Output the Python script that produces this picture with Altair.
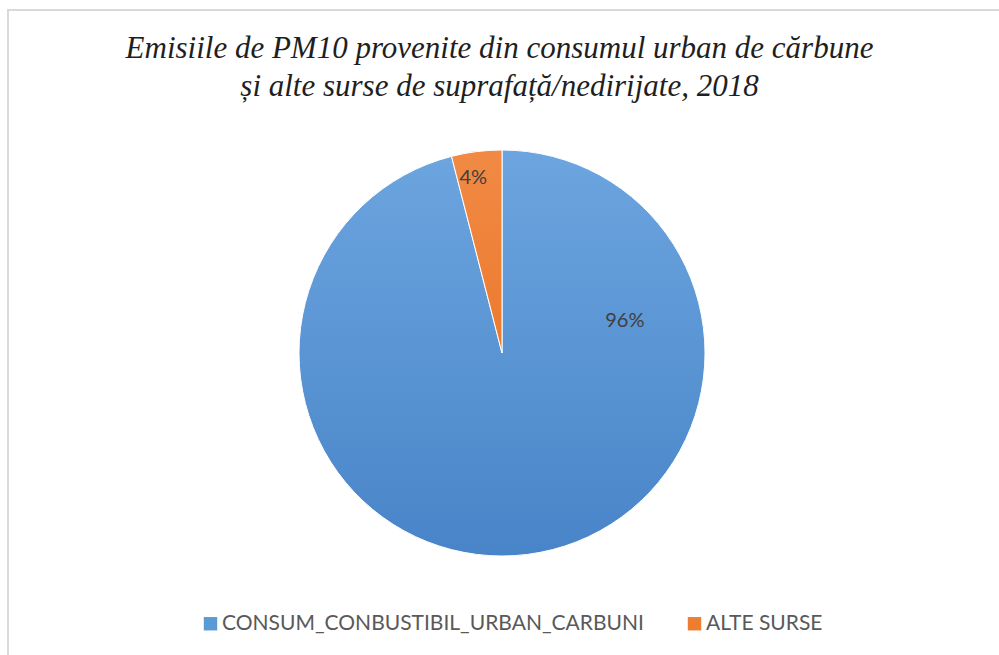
import math
import altair as alt
import pandas as pd

# Share of PM10 emissions by source (percent)
categories = ["CONSUM_CONBUSTIBIL_URBAN_CARBUNI", "ALTE SURSE"]
shares = [96, 4]
labels = ["96%", "4%"]
slice_order = [0, 1]
flat_colors = ["#5b9bd5", "#ed7d31"]

title_lines = [
    "Emisiile de PM10 provenite din consumul urban de cărbune",
    "și alte surse de suprafață/nedirijate, 2018",
]

df = pd.DataFrame({
    "category": categories,
    "share": shares,
    "label": labels,
    "order": slice_order,
})

W, H = 999, 655
CX, CY, R = 502, 353, 203

base = (
    alt.Chart(df)
    .transform_joinaggregate(total="sum(share)")
    .transform_window(cum="sum(share)", sort=[alt.SortField("order")])
    .transform_calculate(
        start="(datum.cum - datum.share) / datum.total",
        end="datum.cum / datum.total",
    )
)

theta_scale = alt.Scale(domain=[0, 1], range=[0, 2 * math.pi])

# flat slices: they carry the legend and sit under the shaded ones
flat = base.mark_arc(outerRadius=R, stroke="white", strokeWidth=1).encode(
    x=alt.value(CX),
    y=alt.value(CY),
    theta=alt.Theta("start:Q", scale=theta_scale),
    theta2="end:Q",
    color=alt.Color(
        "category:N",
        scale=alt.Scale(domain=categories, range=flat_colors),
        legend=alt.Legend(
            title=None,
            orient="none",
            legendX=200,
            legendY=613,
            direction="horizontal",
            symbolType="square",
            symbolSize=180,
            symbolStrokeWidth=0,
            labelFont="Lato",
            labelFontSize=21,
            labelColor="#595959",
            labelOffset=1,
            labelLimit=800,
            columnPadding=40,
        ),
    ),
)


def shaded(cat, top, bottom):
    grad = alt.LinearGradient(
        gradient="linear",
        x1=0, y1=0, x2=0, y2=1,
        stops=[alt.GradientStop(color=top, offset=0),
               alt.GradientStop(color=bottom, offset=1)],
    )
    return (
        base.transform_filter(alt.datum.category == cat)
        .mark_arc(outerRadius=R, stroke="white", strokeWidth=1, fill=grad)
        .encode(
            x=alt.value(CX),
            y=alt.value(CY),
            theta=alt.Theta("start:Q", scale=theta_scale),
            theta2="end:Q",
        )
    )


blue = shaded(categories[0], "#6ca5df", "#4884c8")
orange = shaded(categories[1], "#f18a44", "#ec7a2f")


def label_layer(cat, radius, frac):
    # label sits at a fraction of the way through its slice
    return (
        base.transform_filter(alt.datum.category == cat)
        .transform_calculate(lab=f"datum.start + {frac} * (datum.end - datum.start)")
        .mark_text(radius=radius, font="Lato", fontSize=20, color="#404040")
        .encode(
            x=alt.value(CX),
            y=alt.value(CY),
            theta=alt.Theta("lab:Q", scale=theta_scale),
            text="label:N",
        )
    )


frame = alt.Chart(df).mark_rect(fill=None, stroke="#d9d9d9", strokeWidth=2).encode(
    x=alt.value(8), y=alt.value(10), x2=alt.value(W + 20), y2=alt.value(H + 20)
)

chart = (
    alt.layer(frame, flat, blue, orange,
              label_layer(categories[0], 127, 0.218),
              label_layer(categories[1], 177, 0.35))
    .properties(
        width=W,
        height=H,
        autosize=alt.AutoSizeParams(type="none"),
        padding=0,
        background="white",
        title=alt.TitleParams(
            text=title_lines,
            font="Liberation Serif",
            fontStyle="italic",
            fontWeight="normal",
            fontSize=31,
            lineHeight=38,
            color="#1f1f1f",
            anchor="middle",
            orient="top",
            baseline="alphabetic",
            offset=0,
            dy=127,
            dx=0,
        ),
    )
    .configure_view(stroke=None)
)

chart.save("out.html", embed_options={"renderer": "svg", "actions": False})
